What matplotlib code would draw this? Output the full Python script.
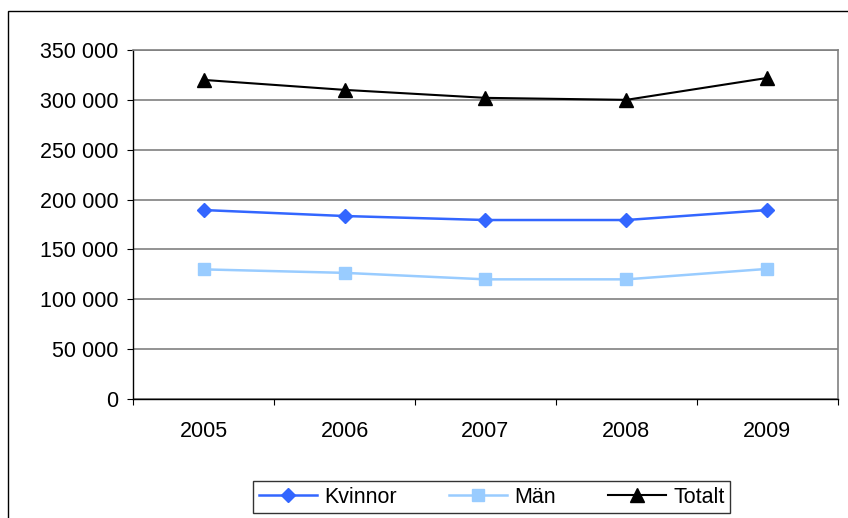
import matplotlib.pyplot as plt
from matplotlib.patches import Rectangle
from matplotlib.ticker import FuncFormatter

years = ['2005', '2006', '2007', '2008', '2009']
kvinnor = [189500, 183500, 179500, 179500, 189500]
man = [130000, 126500, 120000, 120000, 130500]
totalt = [320000, 310000, 302000, 300000, 322000]

plt.rcParams['font.family'] = ['Liberation Sans', 'DejaVu Sans']

fig = plt.figure(figsize=(8.48, 5.18), dpi=100)
ax = fig.add_axes([0.157, 0.2297, 0.831, 0.6738])

x = range(len(years))
ax.plot(x, kvinnor, color='#3366FF', marker='D', markersize=7.5, linewidth=1.8, label='Kvinnor')
ax.plot(x, man, color='#99CCFF', marker='s', markersize=8.5, linewidth=1.8, label='Män')
ax.plot(x, totalt, color='black', marker='^', markersize=9.5, linewidth=1.5, label='Totalt')

ax.set_xlim(-0.5, len(years) - 0.5)
ax.set_ylim(0, 350000)
ax.set_yticks(range(0, 350001, 50000))
ax.yaxis.set_major_formatter(FuncFormatter(lambda v, p: f'{int(v):,}'.replace(',', ' ')))
ax.set_xticks([i - 0.5 for i in range(len(years) + 1)])
ax.set_xticklabels([])
ax.set_xticks(list(x), minor=True)
ax.set_xticklabels(years, minor=True)
ax.tick_params(axis='x', which='minor', length=0, pad=16, labelsize=15.5)
ax.tick_params(axis='x', which='major', length=4.5, direction='out', color='black')
ax.tick_params(axis='y', length=4.5, labelsize=15.5, pad=6, color='black')

ax.grid(axis='y', color='#808080', linewidth=1.2)
ax.set_axisbelow(True)
for side in ['top', 'right']:
    ax.spines[side].set_color('#808080')
    ax.spines[side].set_linewidth(1.2)
for side in ['left', 'bottom']:
    ax.spines[side].set_color('black')
    ax.spines[side].set_linewidth(1.0)

# outer chart frame (cut at right and bottom)
fig.patches.append(Rectangle((0.010, -0.1), 1.2, 1.079, transform=fig.transFigure,
                             fill=False, edgecolor='black', linewidth=1.0))

leg = ax.legend(loc='center', bbox_to_anchor=(0.580, 0.0405), bbox_transform=fig.transFigure,
                ncol=3, fontsize=15.5, frameon=True, fancybox=False, edgecolor='black',
                handlelength=2.7, columnspacing=2.4, handletextpad=0.35, borderpad=0.25,
                borderaxespad=0)
leg.get_frame().set_linewidth(1.0)

fig.savefig('out.png', dpi=100)
